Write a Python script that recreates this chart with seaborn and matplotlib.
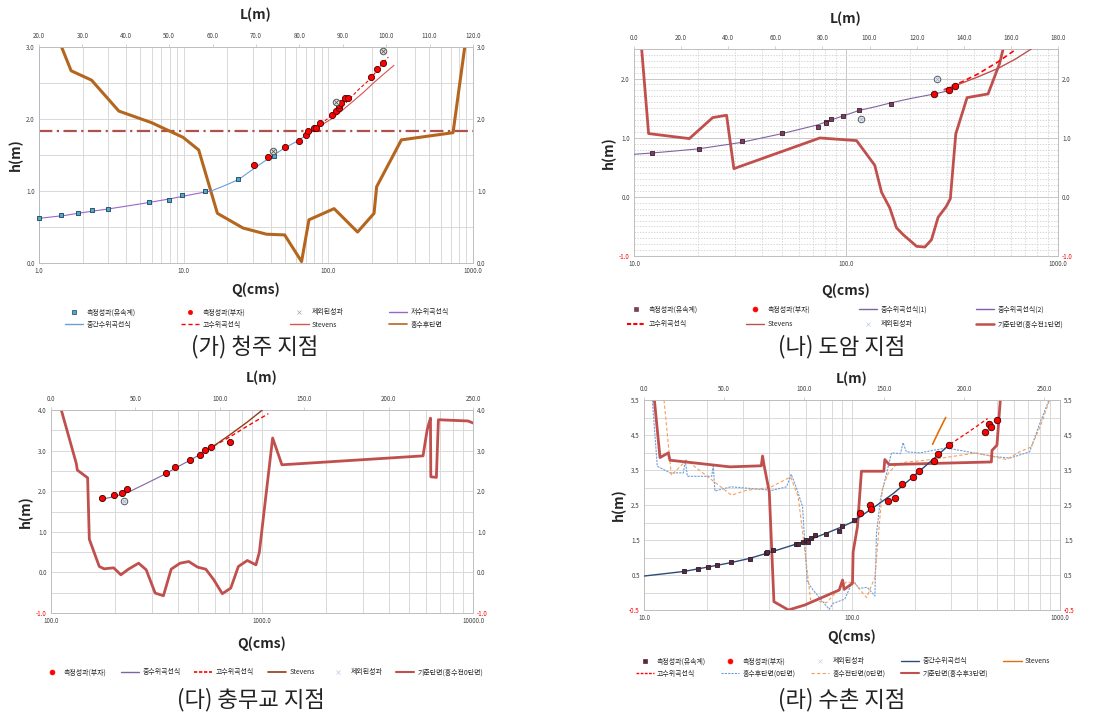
import numpy as np
import matplotlib
matplotlib.use('Agg')
import matplotlib.pyplot as plt
import seaborn as sns
from matplotlib.lines import Line2D
from matplotlib.ticker import FormatStrFormatter, NullFormatter, LogLocator

sns.set_theme(style='white')
plt.rcParams['font.family'] = ['Noto Sans CJK KR', 'DejaVu Sans']
plt.rcParams['axes.unicode_minus'] = False

# ---------------- (가) 청주 지점 ----------------
q1_meter = [1.0, 1.41, 1.87, 2.31, 3.01, 5.78, 7.9, 9.8, 14.0, 23.9, 42.0]
h1_meter = [0.62, 0.66, 0.69, 0.73, 0.75, 0.85, 0.875, 0.95, 1.0, 1.17, 1.49]
q1_float = [30.4, 38.2, 50.0, 62.2, 70.6, 72.5, 79.8, 82.8, 88.2, 106.7, 113.2,
            118.0, 118.6, 122.5, 130.6, 136.3, 196.4, 218.4, 239.0]
h1_float = [1.36, 1.47, 1.61, 1.69, 1.78, 1.83, 1.875, 1.88, 1.94, 2.05, 2.11,
            2.15, 2.20, 2.22, 2.29, 2.29, 2.58, 2.69, 2.78]
q1_excl = [41.6, 112.5, 239.0]
h1_excl = [1.56, 2.23, 2.95]
q1_low = [1.0, 1.5, 2.0, 3.0, 5.0, 8.0, 12.0, 15.5]
h1_low = [0.62, 0.66, 0.70, 0.75, 0.82, 0.89, 0.96, 1.0]
q1_mid = [15.5, 20.0, 24.0, 30.0, 36.0, 42.0, 50.0, 62.0, 72.0, 88.0]
h1_mid = [1.0, 1.09, 1.16, 1.30, 1.41, 1.50, 1.60, 1.70, 1.79, 1.92]
q1_high = [88.0, 100.0, 118.0, 136.0, 160.0, 196.0, 230.0, 260.0]
h1_high = [1.93, 2.01, 2.13, 2.25, 2.40, 2.56, 2.74, 2.86]
q1_stev = [92.0, 105.0, 125.0, 148.0, 175.0, 205.0, 240.0, 284.0]
h1_stev = [1.93, 2.0, 2.12, 2.245, 2.37, 2.50, 2.62, 2.745]
l1_sec = [25.2, 27.4, 32.1, 38.4, 45.9, 53.2, 56.8, 61.1, 67.0, 72.4, 76.6, 80.5,
          82.2, 88.0, 93.4, 97.2, 97.8, 103.5, 115.4, 118.1]
h1_sec = [3.0, 2.67, 2.54, 2.11, 1.95, 1.745, 1.57, 0.69, 0.486, 0.40, 0.39, 0.02,
          0.60, 0.755, 0.43, 0.69, 1.06, 1.71, 1.81, 3.0]
h1_ref = 1.83

# ---------------- (나) 도암 지점 ----------------
q2_meter = [12.1, 20.2, 32.2, 49.8, 73.9, 80.9, 80.9, 85.4, 96.6, 115.3, 163.3, 261.0]
h2_meter = [0.742, 0.816, 0.94, 1.086, 1.177, 1.272, 1.25, 1.312, 1.368, 1.464, 1.577, 1.735]
q2_float = [261.0, 305.0, 326.0]
h2_float = [1.74, 1.81, 1.88]
q2_excl = [117.9, 270.0]
h2_excl = [1.318, 2.0]
q2_mid1 = [10.0, 12.0, 15.0, 20.0, 32.0, 50.0, 74.0, 85.0, 100.0]
h2_mid1 = [0.72, 0.74, 0.77, 0.81, 0.92, 1.07, 1.22, 1.30, 1.385]
q2_mid2 = [100.0, 115.0, 140.0, 163.0, 200.0, 261.0, 310.0]
h2_mid2 = [1.385, 1.46, 1.53, 1.59, 1.66, 1.74, 1.80]
q2_high = [290.0, 350.0, 420.0, 520.0, 637.0]
h2_high = [1.81, 1.94, 2.08, 2.28, 2.50]
q2_stev = [290.0, 350.0, 420.0, 520.0, 630.0, 748.0]
h2_stev = [1.81, 1.92, 2.03, 2.17, 2.33, 2.50]
l2_sec = [3.25, 6.2, 23.5, 33.4, 39.3, 42.4, 78.9, 94.5, 102.2, 105.1, 108.6, 111.4,
          114.3, 120.0, 123.5, 126.3, 129.1, 132.6, 134.3, 136.6, 141.4, 150.3, 155.2, 156.7]
h2_sec = [2.5, 1.07, 0.985, 1.34, 1.38, 0.477, 0.996, 0.951, 0.534, 0.077, -0.188, -0.521,
          -0.64, -0.837, -0.848, -0.724, -0.346, -0.16, -0.03, 1.064, 1.678, 1.74, 2.254, 2.5]

# ---------------- (다) 충무교 지점 ----------------
q3_float = [174.3, 198.7, 216.8, 228.9, 350.0, 389.0, 458.0, 507.0, 537.0, 571.0, 706.0]
h3_float = [1.83, 1.905, 1.962, 2.044, 2.445, 2.584, 2.764, 2.895, 3.01, 3.083, 3.223]
q3_excl = [221.0]
h3_excl = [1.77]
q3_mid = [174.0, 200.0, 229.0, 280.0, 350.0, 389.0, 458.0, 507.0, 560.0, 589.0]
h3_mid = [1.80, 1.87, 1.96, 2.18, 2.43, 2.57, 2.77, 2.90, 3.04, 3.11]
q3_high = [589.0, 700.0, 850.0, 1072.0]
h3_high = [3.11, 3.33, 3.60, 3.91]
q3_stev = [589.0, 700.0, 850.0, 1004.0]
h3_stev = [3.11, 3.38, 3.70, 4.0]
l3_sec = [6.1, 15.0, 15.6, 21.7, 22.7, 28.6, 31.5, 37.1, 41.4, 45.9, 51.9, 56.4, 61.7,
          66.6, 71.2, 76.5, 81.6, 86.8, 91.7, 96.4, 101.5, 106.5, 111.0, 116.3, 121.4,
          123.4, 131.3, 136.8, 220.4, 222.8, 223.8, 224.8, 225.0, 228.3, 229.5, 247.0, 250.0]
h3_sec = [4.0, 2.68, 2.52, 2.33, 0.817, 0.146, 0.088, 0.113, -0.059, 0.08, 0.227, 0.064,
          -0.509, -0.575, 0.08, 0.227, 0.268, 0.13, 0.08, -0.18, -0.525, -0.386, 0.146,
          0.293, 0.187, 0.49, 3.31, 2.65, 2.87, 3.50, 3.66, 3.80, 2.355, 2.34, 3.76, 3.73, 3.68]

# ---------------- (라) 수촌 지점 ----------------
q4_meter = [15.5, 18.2, 20.3, 22.5, 26.3, 32.4, 38.5, 39.2, 41.9, 53.8, 54.8, 58.4,
            60.1, 61.4, 63.2, 66.1, 74.6, 86.2, 89.1, 102.3]
h4_meter = [0.613, 0.679, 0.736, 0.793, 0.869, 0.965, 1.117, 1.164, 1.212, 1.373, 1.383,
            1.44, 1.497, 1.45, 1.563, 1.63, 1.668, 1.744, 1.896, 2.058]
q4_float = [109.3, 121.6, 123.4, 148.9, 160.3, 173.9, 195.7, 210.8, 247.9, 258.2,
            292.6, 435.8, 455.6, 465.6, 500.0]
h4_float = [2.258, 2.514, 2.381, 2.609, 2.695, 3.104, 3.304, 3.475, 3.76, 3.96,
            4.207, 4.578, 4.825, 4.73, 4.92]
q4_mid = [10.0, 15.5, 20.0, 26.0, 32.0, 42.0, 55.0, 63.0, 75.0, 89.0, 100.0, 109.0,
          130.0, 158.0, 190.0, 228.0, 260.0, 296.0]
h4_mid = [0.47, 0.60, 0.72, 0.85, 0.97, 1.18, 1.40, 1.52, 1.69, 1.87, 2.01, 2.16,
          2.47, 2.83, 3.23, 3.64, 3.94, 4.235]
q4_high = [296.0, 364.0, 449.0]
h4_high = [4.235, 4.59, 4.97]
q4_stev = [244.0, 262.0, 282.0]
h4_stev = [4.235, 4.62, 5.0]
l4_after = [5.2, 8.3, 16.2, 24.6, 25.8, 27.1, 42.3, 43.3, 44.3, 54.3, 80.1, 89.1, 92.0,
            95.8, 99.1, 102.0, 105.7, 115.7, 118.2, 125.5, 130.7, 134.2, 139.5, 144.3,
            145.3, 147.8, 154.7, 160.3, 161.9, 164.0, 172.4, 189.0, 218.2, 228.6, 241.0,
            247.3, 253.1]
h4_after = [5.5, 3.608, 3.418, 3.418, 3.78, 3.32, 3.32, 3.61, 2.9, 3.02, 2.92, 3.02, 3.38,
            2.92, 2.45, 0.31, 0.07, -0.48, -0.31, -0.19, 0.356, 0.118, 0.147, -0.1,
            1.687, 2.686, 3.99, 3.97, 4.28, 4.02, 3.99, 4.13, 3.89, 3.84, 4.02, 4.82, 5.5]
l4_before = [12.5, 17.1, 26.6, 33.3, 54.7, 64.1, 78.7, 91.6, 96.4, 100.5, 104.1, 114.1,
             123.4, 126.6, 131.8, 139.1, 144.3, 149.0, 152.6, 157.8, 164.0, 172.4, 189.0,
             207.7, 226.5, 234.8, 242.1, 248.3, 253.5]
h4_before = [5.5, 3.35, 3.78, 3.54, 2.78, 2.92, 3.0, 3.30, 2.73, 1.21, -0.21, -0.29,
             0.166, 0.308, 0.26, -0.148, 0.432, 2.97, 3.40, 3.66, 3.73, 3.76, 3.86,
             3.99, 3.80, 4.02, 4.16, 4.82, 5.5]
l4_sec = [6.5, 10.0, 15.2, 16.2, 53.7, 73.3, 74.1, 75.1, 78.3, 81.2, 90.3, 100.5, 122.0,
          124.1, 125.1, 130.3, 130.7, 133.4, 135.9, 149.9, 150.5, 153.2, 217.1, 217.5,
          220.6, 222.7]
h4_sec = [5.5, 3.855, 3.99, 3.78, 3.59, 3.62, 3.90, 3.62, 2.876, -0.262, -0.5, -0.357,
          0.071, 0.356, 0.09, 0.26, 1.16, 1.877, 3.465, 3.465, 3.80, 3.655, 3.73, 4.06,
          4.21, 5.5]

W, H = 1108, 715
fig = plt.figure(figsize=(W / 100, H / 100), dpi=100)
fig.patch.set_facecolor('white')

TICK = '#404040'
GRID = '#d9d9d9'


def rect(l, t, r, b):
    return [l / W, 1 - b / H, (r - l) / W, (b - t) / H]


def panel(box, qmajor, hmajor, hminor, lticks, lpad=8, qpad=4, dense=False):
    ax = fig.add_axes(rect(*box))
    ax.set_xscale('log')
    ax.set_xticks(qmajor)
    ax.xaxis.set_minor_locator(LogLocator(base=10, subs=np.arange(2, 10)))
    ax.xaxis.set_minor_formatter(NullFormatter())
    ax.xaxis.set_major_formatter(FormatStrFormatter('%.1f'))
    ax.set_yticks(hmajor)
    ax.set_yticks(hminor, minor=True)
    ax.yaxis.set_major_formatter(FormatStrFormatter('%.1f'))
    ax.tick_params(which='both', length=0, labelsize=4.5, labelcolor=TICK, pad=3)
    ax.tick_params(axis='y', which='both', labelright=True)
    if dense:
        ax.grid(which='major', color='#c8c8c8', lw=0.7)
        ax.grid(which='minor', color='#c8c8c8', lw=0.5, ls=(0, (2, 2)))
    else:
        ax.grid(which='both', color=GRID, lw=0.7)
    for s in ax.spines.values():
        s.set_color('#bfbfbf')
        s.set_linewidth(0.6)
    axl = ax.twiny()
    axl.set_xticks(lticks)
    axl.xaxis.set_major_formatter(FormatStrFormatter('%.1f'))
    axl.tick_params(length=2, width=0.5, color='#bfbfbf', labelsize=4.5, labelcolor=TICK, pad=3)
    for s in axl.spines.values():
        s.set_color('#bfbfbf')
        s.set_linewidth(0.6)
    axp = fig.add_axes(rect(*box), sharex=ax, sharey=ax)
    axp.set_axis_off()
    ax.set_xlabel('Q(cms)', fontsize=10, fontweight='bold', labelpad=qpad)
    axl.set_xlabel('L(m)', fontsize=10, fontweight='bold', labelpad=lpad)
    ax.set_ylabel('h(m)', fontsize=10, fontweight='bold', labelpad=2)
    return ax, axl, axp


def finish(ax, axl, qlim, hlim, llim):
    ax.set_xlim(qlim)
    ax.set_ylim(hlim)
    axl.set_xlim(llim)
    for tick, v in zip(ax.yaxis.get_major_ticks(), ax.get_yticks()):
        if v < 0:
            tick.label1.set_color('red')
            tick.label2.set_color('red')


def pts(ax, q, h, face, edge, marker, size):
    sns.scatterplot(x=q, y=h, ax=ax, marker=marker, s=size, color=face, edgecolor=edge,
                    linewidth=0.6, legend=False, clip_on=False, zorder=5)


def excl(ax, q, h, xcol):
    sns.scatterplot(x=q, y=h, ax=ax, marker='o', s=22, color='#e6e6e6', edgecolor='#595959',
                    linewidth=0.7, legend=False, clip_on=False, zorder=5)
    sns.scatterplot(x=q, y=h, ax=ax, marker='x', s=10, color=xcol, linewidth=0.6,
                    legend=False, clip_on=False, zorder=6)


def line(ax, x, y, color, lw=0.8, ls='-'):
    sns.lineplot(x=x, y=y, ax=ax, sort=False, estimator=None, color=color, lw=lw,
                 linestyle=ls, legend=False)


def mk(marker, face, edge, ms):
    return Line2D([], [], ls='none', marker=marker, markerfacecolor=face,
                  markeredgecolor=edge, markersize=ms, markeredgewidth=0.5)


def ln(color, lw=1.0, ls='-'):
    return Line2D([], [], color=color, lw=lw, ls=ls)


def legend(items, ncol, cx, ty, colsp, lsp=0.6):
    nrow = int(np.ceil(len(items) / ncol))
    order = [r * ncol + c for c in range(ncol) for r in range(nrow) if r * ncol + c < len(items)]
    fig.legend([items[i][0] for i in order], [items[i][1] for i in order], ncol=ncol,
               loc='upper center', bbox_to_anchor=(cx / W, 1 - ty / H),
               frameon=False, fontsize=5, handlelength=2.6, handletextpad=0.5,
               columnspacing=colsp, labelspacing=lsp, borderpad=0)


def title(x, y, s):
    fig.text(x / W, 1 - y / H, s, ha='center', va='center', fontsize=16, color='#222222')


# ----- panel 1 -----
C_SQ1, C_PUR, C_BLU, C_RED, C_STV, C_BRN = '#4bacc6', '#9966cc', '#6a9fd8', '#ff0000', '#d9534f', '#b5661e'
ax, axl, axp = panel((39, 47, 473, 263), [1, 10, 100, 1000], [0, 1, 2, 3], [0.5, 1.5, 2.5],
                     np.arange(20, 121, 10), lpad=9, qpad=5)
ax.spines['left'].set_color(C_BLU)
ax.axhline(h1_ref, color='#b0504d', lw=1.6, ls=(0, (6, 2, 1, 2)))
line(axl, l1_sec, h1_sec, C_BRN, lw=2.2)
line(axp, q1_low, h1_low, C_PUR)
line(axp, q1_mid, h1_mid, C_BLU)
line(axp, q1_high, h1_high, C_RED, ls=(0, (3, 2)))
line(axp, q1_stev, h1_stev, C_STV)
pts(axp, q1_meter, h1_meter, C_SQ1, '#1f3f5f', 's', 12)
pts(axp, q1_float, h1_float, C_RED, '#4a0000', 'o', 20)
excl(axp, q1_excl, h1_excl, '#595959')
finish(ax, axl, (1, 1000), (0, 3), (20, 120))
legend([(mk('s', C_SQ1, '#1f3f5f', 3), '측정성과(유속계)'), (mk('o', C_RED, C_RED, 3), '측정성과(부자)'),
        (mk('x', '#a6a6a6', '#a6a6a6', 3), '제외된성과'), (ln(C_PUR), '저수위곡선식'),
        (ln(C_BLU), '중간수위곡선식'), (ln(C_RED, ls=(0, (3, 2))), '고수위곡선식'),
        (ln(C_STV), 'Stevens'), (ln(C_BRN, 1.2), '홍수후단면')], 4, 257, 305, 6.5)
title(255, 347, '(가) 청주 지점')

# ----- panel 2 -----
C_SQ2, C_PUR2, C_SEC = '#7b3f5a', '#8064a2', '#c0504d'
ax, axl, axp = panel((634, 49, 1058, 256), [10, 100, 1000], [-1, 0, 1, 2],
                     np.round(np.arange(-1, 2.51, 0.1), 2), np.arange(0, 181, 20),
                     lpad=8, qpad=11, dense=True)
line(axl, l2_sec, h2_sec, C_SEC, lw=2.0)
line(axp, q2_mid1, h2_mid1, C_PUR2)
line(axp, q2_mid2, h2_mid2, C_PUR2)
line(axp, q2_high, h2_high, C_RED, lw=1.2, ls=(0, (3, 2)))
line(axp, q2_stev, h2_stev, C_SEC, lw=1.0)
pts(axp, q2_meter, h2_meter, C_SQ2, '#3f1f2f', 's', 12)
pts(axp, q2_float, h2_float, C_RED, '#3a0000', 'o', 22)
excl(axp, q2_excl, h2_excl, '#9db8e0')
finish(ax, axl, (10, 1000), (-1, 2.5), (0, 180))
legend([(mk('s', C_SQ2, C_SQ2, 3), '측정성과(유속계)'), (mk('o', C_RED, C_RED, 3.5), '측정성과(부자)'),
        (ln(C_PUR2), '중수위곡선식(1)'), (ln('#7f5fa8'), '중수위곡선식(2)'),
        (ln(C_RED, 1.5, (0, (2, 1))), '고수위곡선식'), (ln(C_SEC), 'Stevens'),
        (mk('x', '#b7cde8', '#b7cde8', 3), '제외된성과'), (ln(C_SEC, 1.8), '기준단면(홍수전1단면)')],
       4, 845, 302, 7, lsp=1.0)
title(842, 347, '(나) 도암 지점')

# ----- panel 3 -----
C_STV3 = '#943a1a'
ax, axl, axp = panel((51, 410, 473, 613), [100, 1000, 10000], [-1, 0, 1, 2, 3, 4],
                     [-0.5, 0.5, 1.5, 2.5, 3.5], np.arange(0, 251, 50), lpad=9, qpad=8)
line(axl, l3_sec, h3_sec, C_SEC, lw=2.0)
line(axp, q3_mid, h3_mid, C_PUR2)
line(axp, q3_high, h3_high, C_RED, lw=1.0, ls=(0, (3, 2)))
line(axp, q3_stev, h3_stev, C_STV3, lw=1.0)
pts(axp, q3_float, h3_float, C_RED, '#3a0000', 'o', 20)
excl(axp, q3_excl, h3_excl, '#9db8e0')
finish(ax, axl, (100, 10000), (-1, 4), (0, 250))
legend([(mk('o', C_RED, C_RED, 3.5), '측정성과(부자)'), (ln(C_PUR2), '중수위곡선식'),
        (ln(C_RED, 1.2, (0, (2, 1))), '고수위곡선식'), (ln(C_STV3, 1.2), 'Stevens'),
        (mk('x', '#b7cde8', '#b7cde8', 3), '제외된성과'), (ln(C_SEC, 1.5), '기준단면(홍수전0단면)')],
       6, 263, 665, 2.0)
title(251, 700, '(다) 충무교 지점')

# ----- panel 4 -----
C_SQ4, C_NAVY, C_ORG, C_DBLU, C_DORG = '#5a2a3a', '#2f4a7a', '#e46c0a', '#6f9fd8', '#f5a05a'
ax, axl, axp = panel((644, 400, 1060, 610), [10, 100, 1000], [-0.5, 0.5, 1.5, 2.5, 3.5, 4.5, 5.5],
                     [0, 1, 2, 3, 4, 5], np.arange(0, 251, 50), lpad=1, qpad=5)
line(axl, l4_after, h4_after, C_DBLU, lw=0.8, ls=(0, (2, 1)))
line(axl, l4_before, h4_before, C_DORG, lw=0.8, ls=(0, (3, 2)))
line(axl, l4_sec, h4_sec, C_SEC, lw=2.0)
line(axp, q4_mid, h4_mid, C_NAVY, lw=1.0)
line(axp, q4_high, h4_high, C_RED, lw=0.9, ls=(0, (3, 2)))
line(axp, q4_stev, h4_stev, C_ORG, lw=1.2)
pts(axp, q4_meter, h4_meter, C_SQ4, '#2a1a2a', 's', 12)
pts(axp, q4_float, h4_float, C_RED, '#3a0000', 'o', 22)
finish(ax, axl, (10, 1000), (-0.5, 5.5), (0, 260))
legend([(mk('s', C_SQ4, C_SQ4, 3), '측정성과(유속계)'), (mk('o', C_RED, C_RED, 3.5), '측정성과(부자)'),
        (mk('x', '#c8d4e8', '#c8d4e8', 3), '제외된성과'), (ln(C_NAVY), '중간수위곡선식'),
        (ln(C_ORG), 'Stevens'),
        (ln(C_RED, 1.0, (0, (2, 1))), '고수위곡선식'), (ln(C_DBLU, 0.8, (0, (2, 1))), '홍수후단면(0단면)'),
        (ln(C_DORG, 0.8, (0, (3, 2))), '홍수전단면(0단면)'), (ln(C_SEC, 1.5), '기준단면(홍수후3단면)')],
       5, 843, 654, 2.2)
title(842, 700, '(라) 수촌 지점')

fig.savefig('out.png', dpi=100, facecolor='white')
